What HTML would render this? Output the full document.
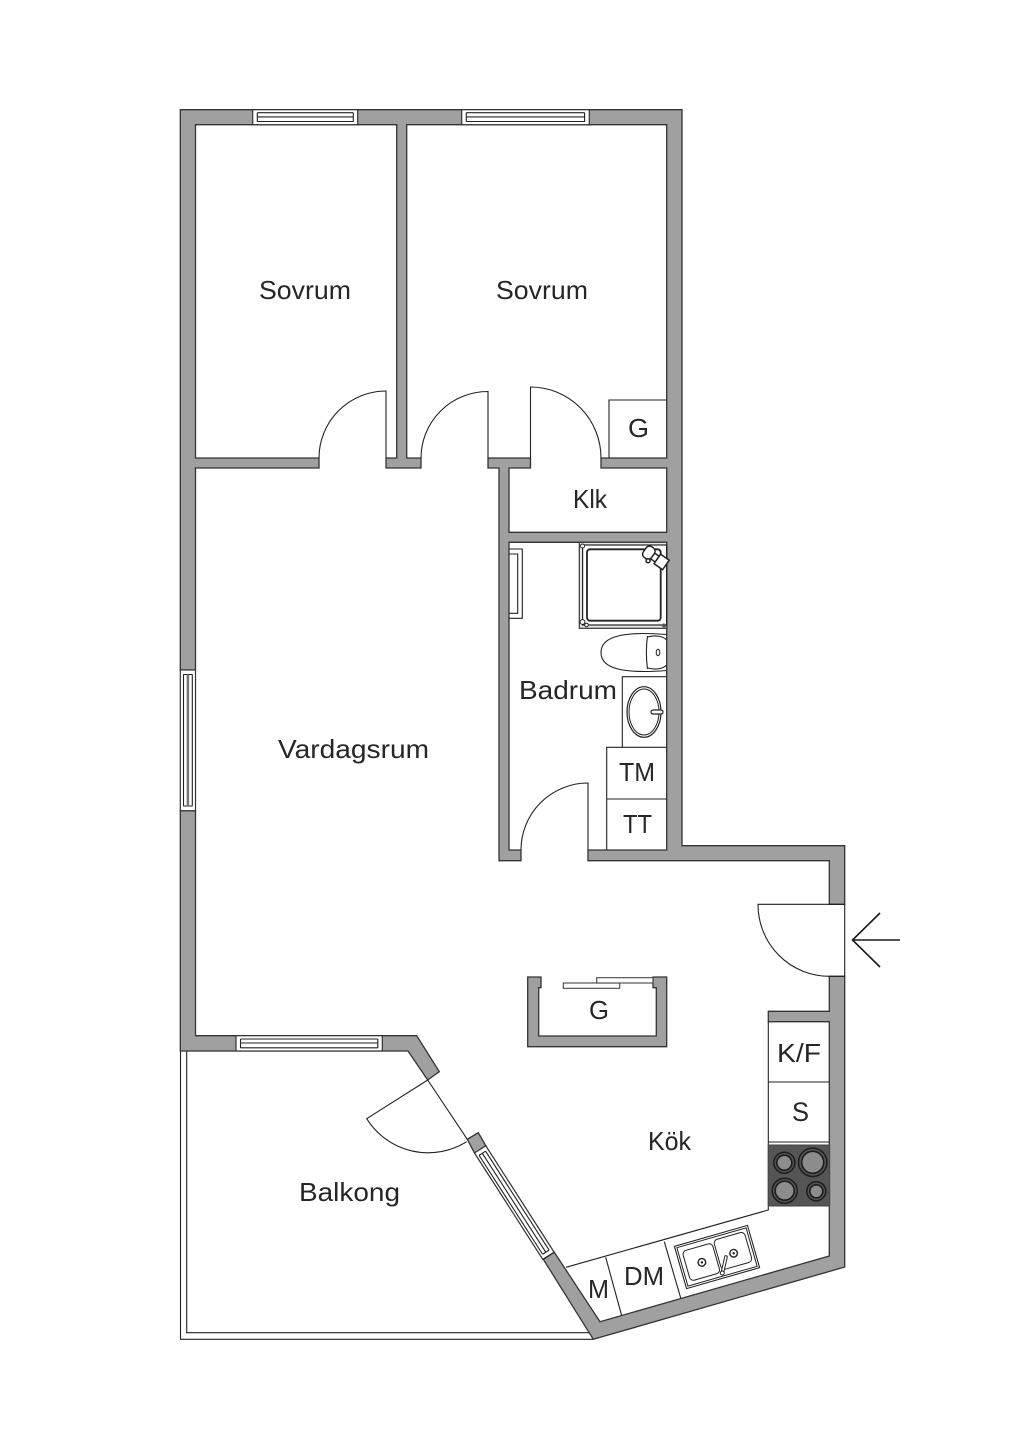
<!DOCTYPE html>
<html lang="sv">
<head>
<meta charset="utf-8">
<title>Planritning</title>
<style>
html,body{margin:0;padding:0;background:#fff}
svg{display:block}
text{font-family:"Liberation Sans",sans-serif;font-size:26px;fill:#262626}
.w{fill:#a0a0a0;stroke:#333;stroke-width:1.3;stroke-linejoin:miter}
.l{fill:none;stroke:#222;stroke-width:1.1}
.win{fill:#fff;stroke:#333;stroke-width:1.2}
</style>
</head>
<body>
<svg width="1024" height="1448" viewBox="0 0 1024 1448" xmlns="http://www.w3.org/2000/svg">
<rect width="1024" height="1448" fill="#fff"/>

<!-- balcony -->
<path class="l" d="M180.5 1051V1339.3H593.3M186.7 1051V1332.7H589"/>

<!-- walls -->
<polygon class="w" points="319,458 195.5,458 195.5,124.7 396.7,124.7 396.7,458 386,458 386,468 421,468 421,458 406.7,458 406.7,124.7 666.7,124.7 666.7,458 601,458 601,468 666.7,468 666.7,532.3 509,532.3 509,468 530.5,468 530.5,458 488,458 488,468 499,468 499,860.7 521,860.7 521,850 509,850 509,542.3 666.7,542.3 666.7,850 588,850 588,860.7 829.3,860.7 829.3,904.3 844.7,904.3 844.7,845.7 682,845.7 682,109.7 180.3,109.7 180.3,670 195.5,670 195.5,468 319,468"/>
<polygon class="w" points="180.3,810.7 195.5,810.7 195.5,1035.7 416.7,1035.7 439.3,1071.7 427.7,1080 408,1051 180.3,1051"/>
<polygon class="w" points="829.3,976.3 844.7,976.3 844.7,1267 593.3,1339.3 543.3,1259.3 554.3,1252.3 600,1321.7 829.3,1256 829.3,1021.7 768.3,1021.7 768.3,1011.3 829.3,1011.3"/>
<polygon class="w" points="478.3,1132.7 486,1146 474.5,1153 467.3,1139.3"/>
<polygon class="w" points="527.7,977 541,977 541,987.7 538.7,987.7 538.7,1036 656.3,1036 656.3,987.7 653,987.7 653,977 666.7,977 666.7,1046.7 527.7,1046.7"/>

<!-- windows -->
<g>
<rect class="win" x="252.7" y="109.7" width="105" height="15"/>
<path class="l" d="M257.3 112.7V121.7M353.3 112.7V121.7M257.3 112.7H353.3M257.3 116.9H353.3M257.3 121.5H353.3"/>
<rect class="win" x="461.7" y="109.7" width="127.6" height="15"/>
<path class="l" d="M466.3 112.7V121.7M584.6 112.7V121.7M466.3 112.7H584.6M466.3 116.9H584.6M466.3 121.5H584.6"/>
<rect class="win" x="180.3" y="670" width="15.2" height="140.7"/>
<path class="l" d="M183.3 674.5H192.5M183.3 806H192.5M183.5 674.5V806M192.3 674.5V806"/>
<path d="M187.9 674.5V806" stroke="#777" stroke-width="2.5" fill="none"/>
<rect class="win" x="236" y="1035.7" width="146.3" height="15.3"/>
<path class="l" d="M240.5 1039V1048M377.8 1039V1048M240.5 1039H377.8M240.5 1043H377.8M240.5 1047.8H377.8"/>
<g transform="translate(474.5 1153) rotate(57.3)">
<rect class="win" x="0" y="-13.4" width="126.4" height="13.4"/>
<path class="l" d="M4.5 -10.3V-2.6M122 -10.3V-2.6M4.5 -10.3H122M4.5 -6.4H122M4.5 -2.6H122"/>
</g>
</g>

<!-- doors -->
<path class="l" d="M386 458V391A67 67 0 0 0 319 458"/>
<path class="l" d="M488 458V391.5A67 66.5 0 0 0 421 458"/>
<path class="l" d="M530.5 458V387A70.5 71 0 0 1 601 458"/>
<path class="l" d="M588 850V783A67 67 0 0 0 521 850"/>
<path class="l" d="M844.7 904.3H758A71.3 71.7 0 0 0 829.3 976.3H844.7M844.7 904.3V976.3"/>
<path class="l" d="M427.7 1080L366.7 1118.7A72.5 72.5 0 0 0 466.7 1141.7M427.7 1080L467.3 1139.3"/>

<!-- entry arrow -->
<path d="M900 940H852.5M880 913L852.5 940L880 967" fill="none" stroke="#1a1a1a" stroke-width="1.6"/>

<!-- island sliding doors -->
<rect x="563.3" y="983" width="56.4" height="5.3" fill="#fff" stroke="#444" stroke-width="1.1"/>
<rect x="596.7" y="977.7" width="56.3" height="5.3" fill="#fff" stroke="#444" stroke-width="1.1"/>

<!-- closet G -->
<path class="l" d="M609 458V400H666.7"/>

<!-- bathroom fixtures -->
<path class="l" d="M509 549H522.3V618.3H509M509 554H517.7V613.3H509"/>
<rect x="579.3" y="542.3" width="87.4" height="86" fill="#e6e6e6" stroke="#333" stroke-width="1.2"/>
<rect x="582.6" y="545" width="84" height="80" fill="#fff" stroke="#222" stroke-width="1.2"/>
<rect x="587" y="549.3" width="73.7" height="71.4" rx="3" fill="#fff" stroke="#222" stroke-width="1.8"/>
<circle cx="582.5" cy="546" r="2" fill="#fff" stroke="#222"/>
<circle cx="582.5" cy="622" r="2.4" fill="#fff" stroke="#222"/>
<circle cx="586.5" cy="625" r="1.8" fill="#fff" stroke="#222"/>
<circle cx="664" cy="625.5" r="2" fill="#555"/>
<g transform="translate(655 557) rotate(35)" fill="#fff" stroke="#222" stroke-width="1.5">
<rect x="-3" y="-3" width="6" height="7"/>
<rect x="-12.5" y="-6.5" width="10" height="13" rx="4"/>
<rect x="3" y="-5.5" width="10.5" height="11.5"/>
<circle cx="-3.5" cy="7" r="2"/>
</g>
<path class="l" stroke-width="1.3" d="M666.7 634.5C648 633 630 633 618 636C606 639 601 645 601 652.5C601 660 606 666 618 669C630 672 648 672 666.7 670.5"/>
<path class="l" d="M647.5 636C646 647 646 658 647.5 669M647.5 637C655 635 663 636 666.7 640M647.5 668C655 670 663 669 666.7 665"/>
<ellipse cx="658" cy="652.5" rx="1.8" ry="3.2" fill="#fff" stroke="#222"/>
<path class="l" d="M622.3 747.3V676.7H666.7"/>
<ellipse cx="644" cy="712" rx="17" ry="25.3" fill="#fff" stroke="#222" stroke-width="1.2"/>
<ellipse cx="644" cy="712" rx="15" ry="23" fill="none" stroke="#222" stroke-width="1"/>
<rect x="651" y="710" width="12" height="4" rx="2" fill="#fff" stroke="#222" stroke-width="1.2"/>
<path class="l" d="M666.7 747.3H606.7V850M606.7 799H666.7"/>

<!-- kitchen -->
<path class="l" d="M768.3 1021.7V1210L566 1267.3"/>
<path class="l" d="M768.3 1082H829.3M768.3 1142H829.3"/>
<path class="l" d="M605.7 1257.3L621.7 1315.7M664.3 1241.7L680.7 1298"/>
<rect x="768.3" y="1145" width="61.4" height="61" fill="#555" stroke="#444"/>
<g fill="#8c8c8c" stroke="#1c1c1c" stroke-width="1.6">
<circle cx="784.3" cy="1162.7" r="7.5"/>
<circle cx="812.7" cy="1162.3" r="11"/>
<circle cx="784.7" cy="1190.7" r="9.5"/>
<circle cx="816.3" cy="1191.3" r="6.5"/>
</g>
<g fill="none" stroke="#1c1c1c" stroke-width="1.5">
<circle cx="784.3" cy="1162.7" r="10.5"/>
<circle cx="812.7" cy="1162.3" r="14.2"/>
<circle cx="784.7" cy="1190.7" r="12.5"/>
<circle cx="816.3" cy="1191.3" r="9.5"/>
</g>
<g transform="translate(717 1257) rotate(-16)">
<rect x="-38" y="-22" width="76" height="44" fill="#fff" stroke="#222" stroke-width="1.1"/>
<rect x="-36" y="-20" width="72" height="40" fill="none" stroke="#222" stroke-width="1"/>
<rect x="-32" y="-15" width="31" height="31" rx="4" fill="none" stroke="#222" stroke-width="1"/>
<rect x="1" y="-17" width="32" height="31" rx="4" fill="none" stroke="#222" stroke-width="1"/>
<circle cx="-16" cy="1" r="3.8" fill="#fff" stroke="#222" stroke-width="1.4"/>
<circle cx="-16" cy="1" r="1.2" fill="#222"/>
<circle cx="17" cy="1" r="3.8" fill="#fff" stroke="#222" stroke-width="1.4"/>
<circle cx="17" cy="1" r="1.2" fill="#222"/>
</g>
<path d="M722.3 1273L726 1257" stroke="#222" stroke-width="3.6" stroke-linecap="round" fill="none"/>
<path d="M722.3 1273L726 1257" stroke="#fff" stroke-width="1.6" stroke-linecap="round" fill="none"/>
<circle cx="722.3" cy="1273" r="2" fill="#fff" stroke="#222"/>

<!-- labels -->
<text x="259" y="299" textLength="92" lengthAdjust="spacingAndGlyphs">Sovrum</text>
<text x="496" y="299" textLength="92" lengthAdjust="spacingAndGlyphs">Sovrum</text>
<text x="628" y="437" textLength="21" lengthAdjust="spacingAndGlyphs">G</text>
<text x="573" y="508" textLength="34" lengthAdjust="spacingAndGlyphs">Klk</text>
<text x="519" y="699" textLength="98" lengthAdjust="spacingAndGlyphs">Badrum</text>
<text x="278" y="758" textLength="151" lengthAdjust="spacingAndGlyphs">Vardagsrum</text>
<text x="619" y="781" textLength="36" lengthAdjust="spacingAndGlyphs">TM</text>
<text x="623" y="833" textLength="29" lengthAdjust="spacingAndGlyphs">TT</text>
<text x="589" y="1019" textLength="20" lengthAdjust="spacingAndGlyphs">G</text>
<text x="777" y="1062" textLength="44" lengthAdjust="spacingAndGlyphs">K/F</text>
<text x="792" y="1121" style="font-size:27px" textLength="17" lengthAdjust="spacingAndGlyphs">S</text>
<text x="648" y="1150" textLength="43" lengthAdjust="spacingAndGlyphs">Kök</text>
<text x="299" y="1201" textLength="101" lengthAdjust="spacingAndGlyphs">Balkong</text>
<text x="588" y="1298" textLength="21" lengthAdjust="spacingAndGlyphs">M</text>
<text x="624" y="1285" textLength="40" lengthAdjust="spacingAndGlyphs">DM</text>
</svg>
</body>
</html>
